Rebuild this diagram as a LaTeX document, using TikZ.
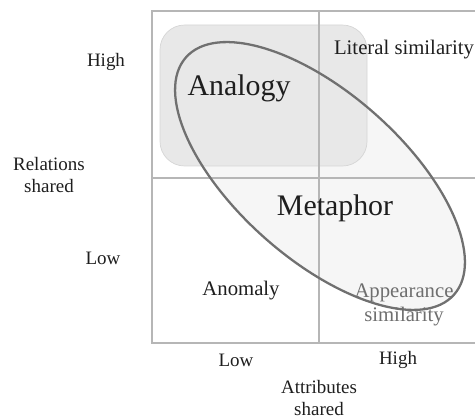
\documentclass[tikz,border=0pt]{standalone}
\usepackage{fontspec}
\setmainfont{Liberation Serif}
\usepackage{tikz}
\usetikzlibrary{positioning, calc}
\definecolor{gridc}{RGB}{182,182,182}
\definecolor{ovalc}{RGB}{112,112,112}
\definecolor{boxc}{RGB}{232,232,232}
\definecolor{boxedge}{RGB}{214,214,214}
\definecolor{ovalfill}{RGB}{246,246,246}
\definecolor{ink}{RGB}{30,30,30}
\definecolor{faint}{RGB}{110,110,110}
\tikzset{
  gridline/.style={draw=gridc,line width=1.15pt},
  axis/.style={font=\fontsize{10.8}{12.6}\selectfont,text=ink,align=center,inner sep=0pt},
  cell/.style={font=\fontsize{11.8}{14}\selectfont,text=ink,align=center,inner sep=0pt},
  big/.style={font=\fontsize{17}{19}\selectfont,text=ink,inner sep=0pt},
}

\begin{document}
\begin{tikzpicture}[x=0.02cm,y=-0.02cm]
  \useasboundingbox (0,0) rectangle (475,418);
  \clip (0,0) rectangle (475,418);
  % metaphor oval, fill only
  \fill[ovalfill,rotate around={-41.5:(320,176)}] (320,176) ellipse [x radius=179,y radius=83];
  % analogy patch
  \draw[boxedge,fill=boxc,rounded corners=14] (160,25) rectangle (367,166);
  % the 2x2 grid
  \draw[gridline] (152,11) rectangle (482,343);
  \draw[gridline] (319,11) -- (319,343);
  \draw[gridline] (152,178) -- (482,178);
  % oval outline
  \draw[ovalc,line width=1.3pt,rotate around={-41.5:(320,176)}] (320,176) ellipse [x radius=179,y radius=83];
  % cells
  \node[big] (analogy) at (239,88) {Analogy};
  \node[big] (metaphor) at (335,208) {Metaphor};
  \node[cell] (literal) at (404,50) {Literal similarity};
  \node[cell] (anomaly) at (241,291) {Anomaly};
  \node[cell,text=faint] (appear) at (404,305) {Appearance\\similarity};
  % axes
  \node[axis] (rhigh) at (106,62) {High};
  \node[axis] (rlow) at (103,258) {Low};
  \node[axis] (rel) at (49,175) {Relations\\shared};
  \node[axis] (alow) at (236,360) {Low};
  \node[axis] (ahigh) at (398,360) {High};
  \node[axis] (attr) at (319,398) {Attributes\\shared};
\end{tikzpicture}
\end{document}
